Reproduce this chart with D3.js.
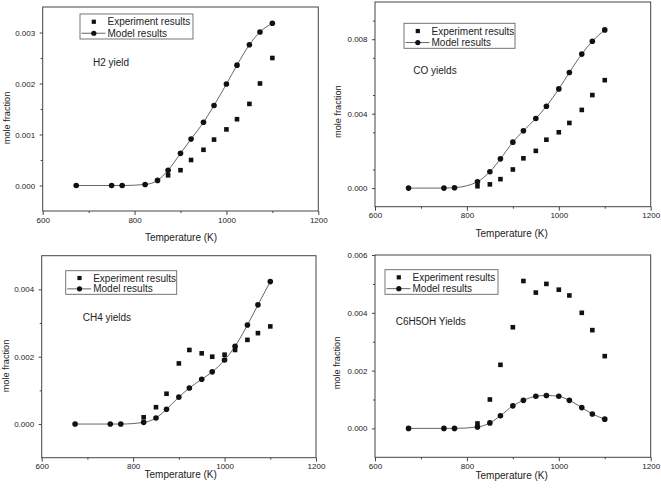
<!DOCTYPE html>
<html><head><meta charset="utf-8">
<script src="https://cdn.jsdelivr.net/npm/d3@7"></script>
<style>
html,body{margin:0;padding:0;background:#fff;}
svg{display:block;}
text{font-family:"Liberation Sans",Arial,sans-serif;fill:#222;}
</style></head>
<body>
<svg id="chart" width="661" height="491"></svg>
<script>
// Temperatures (K)
const temps = [673, 750, 773, 823, 850, 873, 900, 923, 950, 973, 1000, 1023, 1050, 1073, 1100];

// H2 yield
const h2Exp   = [null, null, null, null, null, 0.0002, 0.0003, 0.0005, 0.0007, 0.0009, 0.0011, 0.0013, 0.0016, 0.0020, 0.0025];
const h2Model = [0, 0, 0, 0.00002, 0.0001, 0.0003, 0.00063, 0.00091, 0.00124, 0.00157, 0.00199, 0.00236, 0.00276, 0.00301, 0.00318];

// CO yields
const coExp   = [null, null, null, 0.0001, 0.0002, 0.00048, 0.0010, 0.0016, 0.0020, 0.0026, 0.0030, 0.0035, 0.0042, 0.0050, 0.0058];
const coModel = [0, 0, 0.00002, 0.00034, 0.00088, 0.00157, 0.00247, 0.00308, 0.00374, 0.0044, 0.00533, 0.00621, 0.0072, 0.00789, 0.0085];

// CH4 yields
const ch4Exp   = [null, null, null, 0.0002, 0.0005, 0.0009, 0.0018, 0.0022, 0.0021, 0.0020, 0.00206, 0.0022, 0.0025, 0.0027, 0.0029];
const ch4Model = [0, 0, 0, 0.00005, 0.00018, 0.00044, 0.0008, 0.00107, 0.00133, 0.00155, 0.0019, 0.00231, 0.00294, 0.00354, 0.00423];

// C6H5OH yields
const phExp   = [null, null, null, 0.00017, 0.0010, 0.0022, 0.0035, 0.0051, 0.0047, 0.0050, 0.0048, 0.0046, 0.0040, 0.0034, 0.0025];
const phModel = [0, 0, 0, 0.00005, 0.00019, 0.00044, 0.00078, 0.00097, 0.00111, 0.00114, 0.00111, 0.00097, 0.00072, 0.0005, 0.00032];

// Tick labels
const xTicks = [600, 800, 1000, 1200];
const xMinor = [700, 900, 1100];
const h2YTicks = [0, 0.001, 0.002, 0.003];
const coYTicks = [0, 0.004, 0.008];
const ch4YTicks = [0, 0.002, 0.004];
const phYTicks = [0, 0.002, 0.004, 0.006];

const seriesNames = ["Experiment results", "Model results"];
const xTitle = "Temperature (K)";
const yTitle = "mole fraction";

const panels = [
  {exp: h2Exp, model: h2Model, yDomain: [-0.0005, 0.0035], yTicks: h2YTicks, yMinorStep: 0.0005,
   box: [42.7, 318.3, 7, 211], legend: [80, 14, 113, 25], note: "H2 yield", notePos: [93, 62],
   yLab: [6.7, 118], xLab: [181, 237]},
  {exp: coExp, model: coModel, yDomain: [-0.001, 0.010], yTicks: coYTicks, yMinorStep: 0.002,
   box: [375, 650.7, 2, 206.7], legend: [404, 23.3, 111, 25], note: "CO yields", notePos: [413.3, 70.7],
   yLab: [337.3, 111.7], xLab: [511.7, 233]},
  {exp: ch4Exp, model: ch4Model, yDomain: [-0.001, 0.005], yTicks: ch4YTicks, yMinorStep: 0.001,
   box: [41.7, 316, 255.7, 457.7], legend: [65.7, 270.7, 111, 23.6], note: "CH4 yields", notePos: [82.7, 317.7],
   yLab: [6, 366], xLab: [180.7, 474]},
  {exp: phExp, model: phModel, yDomain: [-0.001, 0.006], yTicks: phYTicks, yMinorStep: 0.001,
   box: [375, 650.7, 255, 457.3], legend: [385, 269.7, 113, 24.6], note: "C6H5OH Yields", notePos: [395.7, 321],
   yLab: [336.7, 363], xLab: [511.7, 475]}
];

const svg = d3.select("#chart");
const FONT = "'Liberation Sans', Arial, sans-serif";

panels.forEach(p => {
  const [l, r, t, b] = p.box;
  const x = d3.scaleLinear().domain([600, 1200]).range([l, r]);
  const y = d3.scaleLinear().domain(p.yDomain).range([b, t]);
  const g = svg.append("g");

  // frame
  g.append("rect").attr("x", l).attr("y", t).attr("width", r - l).attr("height", b - t)
    .attr("fill", "none").attr("stroke", "#444").attr("stroke-width", 1);

  // bottom axis
  const xa = g.append("g").attr("transform", `translate(0,${b})`)
    .call(d3.axisBottom(x).tickValues(xTicks).tickSize(4).tickPadding(2).tickFormat(d3.format("d")));
  const xm = g.append("g").attr("transform", `translate(0,${b})`)
    .call(d3.axisBottom(x).tickValues(xMinor).tickSize(2).tickFormat(""));
  // left axis
  const ya = g.append("g").attr("transform", `translate(${l},0)`)
    .call(d3.axisLeft(y).tickValues(p.yTicks).tickSize(3).tickPadding(4.5).tickFormat(d3.format(".3f")));
  const minorY = d3.range(p.yDomain[0], p.yDomain[1] + 1e-9, p.yMinorStep)
    .filter(v => !p.yTicks.some(tv => Math.abs(tv - v) < 1e-9) && v > p.yDomain[0] + 1e-9 && v < p.yDomain[1] - 1e-9);
  const ym = g.append("g").attr("transform", `translate(${l},0)`)
    .call(d3.axisLeft(y).tickValues(minorY).tickSize(2).tickFormat(""));
  [xa, xm, ya, ym].forEach(a => {
    a.attr("font-family", FONT);
    a.select(".domain").remove();
    a.selectAll("line").attr("stroke", "#444");
    a.selectAll("text").attr("font-size", 8).attr("fill", "#222").attr("font-family", FONT);
  });

  // titles
  g.append("text").attr("x", p.xLab[0]).attr("y", p.xLab[1]).attr("dy", "0.35em")
    .attr("text-anchor", "middle").attr("font-size", 10).attr("font-family", FONT).text(xTitle);
  g.append("text").attr("transform", `translate(${p.yLab[0]},${p.yLab[1]}) rotate(-90)`)
    .attr("dy", "0.35em").attr("text-anchor", "middle").attr("font-size", 9.2).attr("font-family", FONT).text(yTitle);

  // annotation
  g.append("text").attr("x", p.notePos[0]).attr("y", p.notePos[1]).attr("dy", "0.35em")
    .attr("font-size", 10).attr("font-family", FONT).text(p.note);

  // model line
  const modelPts = temps.map((tK, i) => [tK, p.model[i]]).filter(d => d[1] != null);
  const line = d3.line().x(d => x(d[0])).y(d => y(d[1])).curve(d3.curveMonotoneX);
  g.append("path").datum(modelPts).attr("d", line).attr("fill", "none")
    .attr("stroke", "#555").attr("stroke-width", 0.9);

  // experiment squares
  const expPts = temps.map((tK, i) => [tK, p.exp[i]]).filter(d => d[1] != null);
  const sq = 4.6;
  g.selectAll("rect.exp").data(expPts).join("rect").attr("class", "exp")
    .attr("x", d => x(d[0]) - sq / 2).attr("y", d => y(d[1]) - sq / 2)
    .attr("width", sq).attr("height", sq).attr("fill", "#111");

  // model circles
  g.selectAll("circle.model").data(modelPts).join("circle").attr("class", "model")
    .attr("cx", d => x(d[0])).attr("cy", d => y(d[1])).attr("r", 2.8).attr("fill", "#111");

  // legend
  const [lx, ly, lw, lh] = p.legend;
  const lg = g.append("g");
  lg.append("rect").attr("x", lx).attr("y", ly).attr("width", lw).attr("height", lh)
    .attr("fill", "#fff").attr("stroke", "#666").attr("stroke-width", 0.9);
  const r1 = ly + lh * 0.31, r2 = ly + lh * 0.77;
  const lsq = 4.2;
  lg.append("rect").attr("x", lx + 13.8 - lsq / 2).attr("y", r1 - lsq / 2).attr("width", lsq).attr("height", lsq).attr("fill", "#111");
  lg.append("line").attr("x1", lx + 1.5).attr("x2", lx + 25.5).attr("y1", r2).attr("y2", r2)
    .attr("stroke", "#555").attr("stroke-width", 0.9);
  lg.append("circle").attr("cx", lx + 13.8).attr("cy", r2).attr("r", 2.6).attr("fill", "#111");
  lg.append("text").attr("x", lx + 27.5).attr("y", r1).attr("dy", "0.35em").attr("font-size", 10).attr("font-family", FONT).text(seriesNames[0]);
  lg.append("text").attr("x", lx + 27.5).attr("y", r2).attr("dy", "0.35em").attr("font-size", 10).attr("font-family", FONT).text(seriesNames[1]);
});
</script>
</body></html>
